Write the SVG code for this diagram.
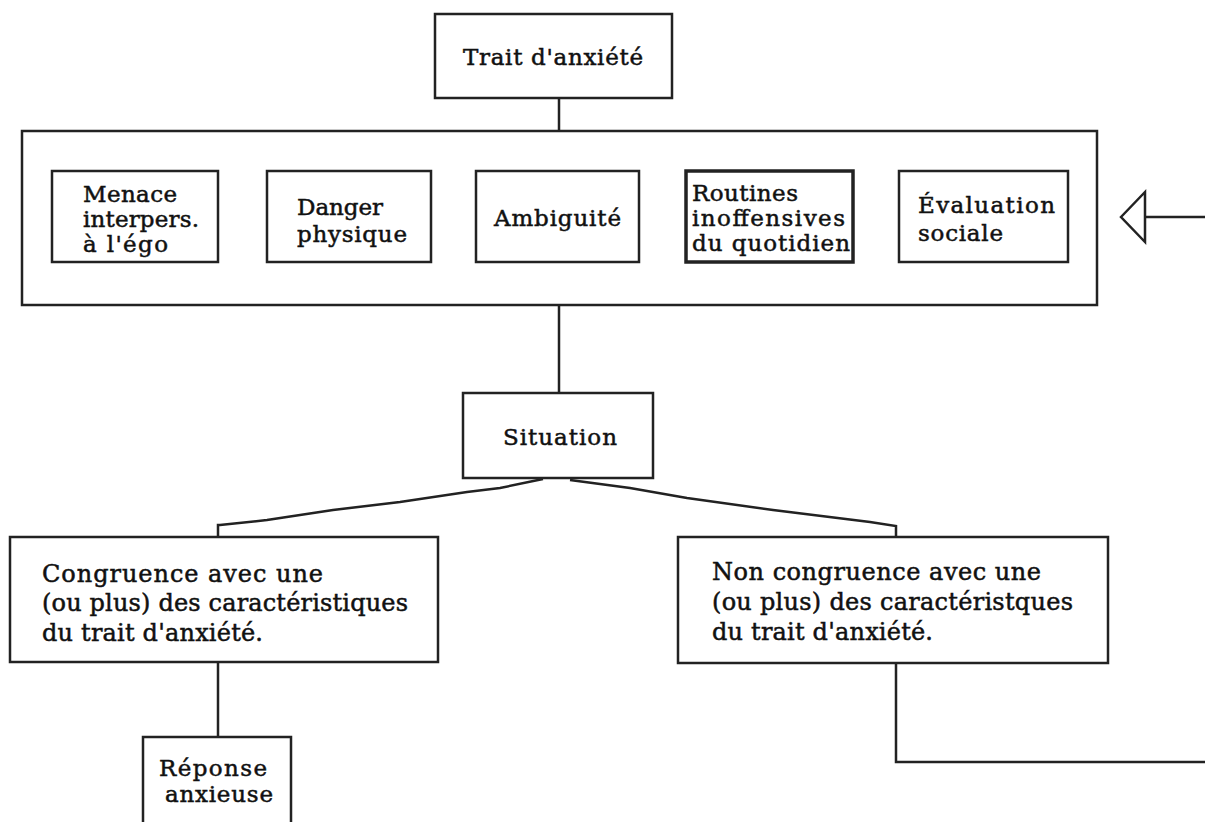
<svg xmlns="http://www.w3.org/2000/svg" width="1205" height="822" viewBox="0 0 1205 822">
<style>
.box{fill:#fff;stroke:#222;stroke-width:2.5}
.thick{stroke-width:3.5}
.ln{fill:none;stroke:#222;stroke-width:2.5}
.t{font-family:"DejaVu Serif","Liberation Serif",serif;font-size:23px;fill:#111;stroke:#111;stroke-width:0.5}
.tb{font-family:"DejaVu Serif","Liberation Serif",serif;font-size:24px;fill:#111;stroke:#111;stroke-width:0.5}
</style>
<rect width="1205" height="822" fill="#fff"/>
<g id="connectors">
<line class="ln" x1="559" y1="98" x2="559" y2="131"/>
<line class="ln" x1="559" y1="305" x2="559" y2="393"/>
<polyline class="ln" points="543,479 500,488 467,492 400,502 333,510 267,520 220,525 218,525 218,537"/>
<polyline class="ln" points="570,480 630,488 687,498 773,510 870,522 896,526 896,537"/>
<line class="ln" x1="218" y1="662" x2="218" y2="737"/>
<polyline class="ln" points="896,663 896,762 1205,762"/>
<line class="ln" x1="1145" y1="217" x2="1205" y2="217"/>
<polygon class="box" points="1121,217 1145,192 1145,242"/>
</g>
<g id="trait">
<rect class="box" x="435" y="14" width="237" height="84"/>
<text class="t" x="463" y="65" textLength="180" lengthAdjust="spacing">Trait d'anxiété</text>
</g>
<g id="caracteristiques">
<rect class="box" x="22" y="131" width="1075" height="174"/>
</g>
<g id="menace">
<rect class="box" x="52" y="171" width="166" height="91"/>
<text class="t" x="83" y="202" textLength="94" lengthAdjust="spacing">Menace</text>
<text class="t" x="83" y="227" textLength="116" lengthAdjust="spacing">interpers.</text>
<text class="t" x="83" y="252" textLength="85" lengthAdjust="spacing">à l'égo</text>
</g>
<g id="danger">
<rect class="box" x="267" y="171" width="164" height="91"/>
<text class="t" x="297" y="215" textLength="86" lengthAdjust="spacing">Danger</text>
<text class="t" x="297" y="242" textLength="110" lengthAdjust="spacing">physique</text>
</g>
<g id="ambiguite">
<rect class="box" x="476" y="171" width="163" height="91"/>
<text class="t" x="494" y="226" textLength="127" lengthAdjust="spacing">Ambiguité</text>
</g>
<g id="routines">
<rect class="box thick" x="686" y="171" width="167" height="91"/>
<text class="t" x="692" y="201" textLength="106" lengthAdjust="spacing">Routines</text>
<text class="t" x="692" y="226" textLength="153" lengthAdjust="spacing">inoffensives</text>
<text class="t" x="692" y="251" textLength="158" lengthAdjust="spacing">du quotidien</text>
</g>
<g id="evaluation">
<rect class="box" x="899" y="171" width="169" height="91"/>
<text class="t" x="918" y="213" textLength="137" lengthAdjust="spacing">Évaluation</text>
<text class="t" x="918" y="241" textLength="85" lengthAdjust="spacing">sociale</text>
</g>
<g id="situation">
<rect class="box" x="463" y="393" width="190" height="85"/>
<text class="t" x="503" y="445" textLength="114" lengthAdjust="spacing">Situation</text>
</g>
<g id="congruence">
<rect class="box" x="10" y="537" width="428" height="125"/>
<text class="tb" x="42" y="582" textLength="281" lengthAdjust="spacing">Congruence avec une</text>
<text class="tb" x="42" y="611" textLength="366" lengthAdjust="spacing">(ou plus) des caractéristiques</text>
<text class="tb" x="42" y="641" textLength="221" lengthAdjust="spacing">du trait d'anxiété.</text>
</g>
<g id="non-congruence">
<rect class="box" x="678" y="537" width="430" height="126"/>
<text class="tb" x="712" y="580" textLength="329" lengthAdjust="spacing">Non congruence avec une</text>
<text class="tb" x="712" y="610" textLength="361" lengthAdjust="spacing">(ou plus) des caractéristques</text>
<text class="tb" x="712" y="640" textLength="221" lengthAdjust="spacing">du trait d'anxiété.</text>
</g>
<g id="reponse">
<rect class="box" x="143" y="737" width="148" height="95"/>
<text class="t" x="159" y="776" textLength="108" lengthAdjust="spacing">Réponse</text>
<text class="t" x="165" y="802" textLength="108" lengthAdjust="spacing">anxieuse</text>
</g>
</svg>
